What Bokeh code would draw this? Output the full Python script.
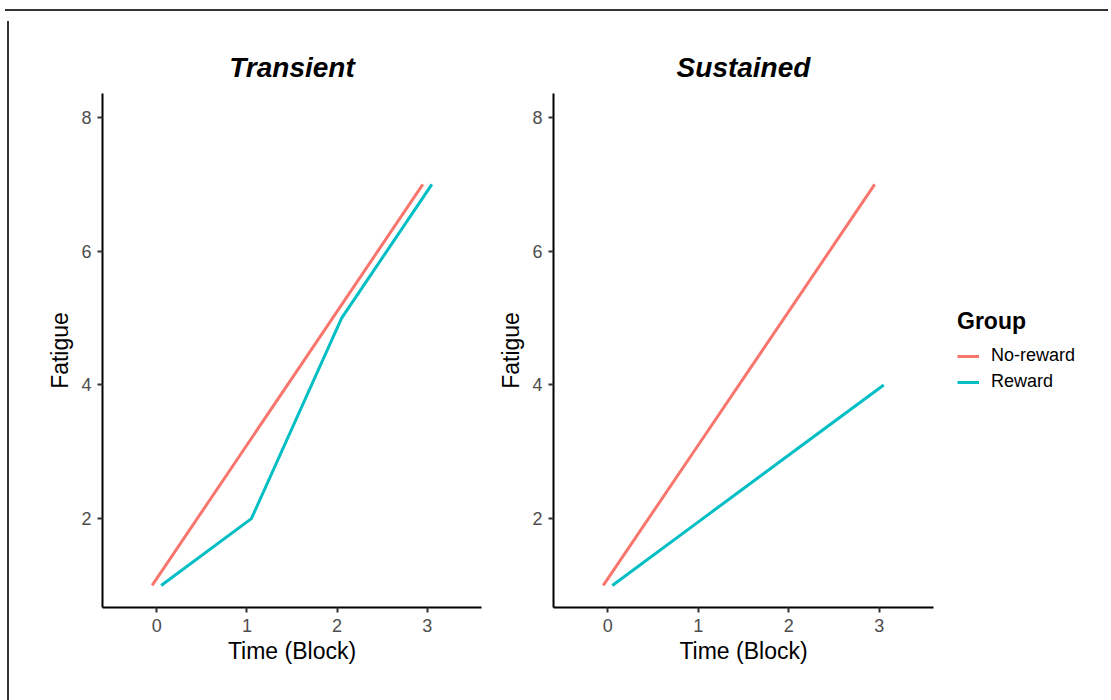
from bokeh.plotting import figure
from bokeh.models import ColumnDataSource, Legend, LegendItem, Range1d, FixedTicker, Title, Div
from bokeh.layouts import row, column
from bokeh.transform import dodge
from bokeh.embed import file_html
from bokeh.resources import INLINE

time = [0, 1, 2, 3]
panels = ["Transient", "Sustained"]
transient_noreward = [1, 3, 5, 7]
transient_reward = [1, 2, 5, 7]
sustained_noreward = [1, 3, 5, 7]
sustained_reward = [1, 2, 3, 4]
groups = ["No-reward", "Reward"]
colors = ["#F8766D", "#00BFC4"]
y_ticks = [2, 4, 6, 8]
x_ticks = [0, 1, 2, 3]

FONT = "Liberation Sans"
H = 682
TOP = 77
FRAME_H = 514


def make_panel(title, nr, rw, left, right, width):
    p = figure(width=width, height=H, output_backend="svg", toolbar_location=None,
               x_range=Range1d(-0.6, 3.6), y_range=Range1d(0.67, 8.36),
               min_border_left=left, min_border_right=right,
               min_border_top=TOP, min_border_bottom=H - TOP - FRAME_H)
    p.title = Title(text=title, align="center", text_font=FONT, text_font_size="28px",
                    text_font_style="bold italic", text_color="black", standoff=21)
    p.grid.visible = False
    p.outline_line_color = None
    p.background_fill_color = "white"
    p.border_fill_color = "white"
    for ax in (p.xaxis, p.yaxis):
        ax.axis_line_color = "black"
        ax.axis_line_width = 2
        ax.major_tick_line_color = "#333333"
        ax.major_tick_line_width = 2
        ax.major_tick_out = 5
        ax.major_tick_in = 0
        ax.minor_tick_line_color = None
        ax.major_label_text_font = FONT
        ax.major_label_text_font_size = "18px"
        ax.major_label_text_color = "#4d4d4d"
        ax.axis_label_text_font = FONT
        ax.axis_label_text_font_size = "23px"
        ax.axis_label_text_font_style = "normal"
        ax.axis_label_text_color = "black"
    p.xaxis.ticker = FixedTicker(ticks=x_ticks)
    p.yaxis.ticker = FixedTicker(ticks=y_ticks)
    p.xaxis.axis_label = "Time (Block)"
    p.yaxis.axis_label = "Fatigue"
    p.xaxis.major_label_standoff = 6
    p.yaxis.major_label_standoff = 6
    p.xaxis.axis_label_standoff = 3
    p.yaxis.axis_label_standoff = 5
    src = ColumnDataSource(dict(t=time, nr=nr, rw=rw))
    r1 = p.line(x=dodge("t", -0.05), y="nr", source=src, line_color=colors[0], line_width=3)
    r2 = p.line(x=dodge("t", 0.05), y="rw", source=src, line_color=colors[1], line_width=3)
    return p, r1, r2


p1, _, _ = make_panel(panels[0], transient_noreward, transient_reward, 88, 10, 477)
p2, _, _ = make_panel(panels[1], sustained_noreward, sustained_reward, 62, 10, 452)

# legend-only figure: its line renderers lie outside the visible range
pl = figure(width=164, height=H, output_backend="svg", toolbar_location=None,
            x_range=Range1d(0, 1), y_range=Range1d(0, 1),
            x_axis_location=None, y_axis_location=None,
            min_border_left=0, min_border_right=0, min_border_top=0, min_border_bottom=0)
pl.grid.visible = False
pl.outline_line_color = None
hidden = ColumnDataSource(dict(x=[-10, -9], y=[-10, -9]))
la = pl.line(x="x", y="y", source=hidden, line_color=colors[0], line_width=3)
lb = pl.line(x="x", y="y", source=hidden, line_color=colors[1], line_width=3)

legend = Legend(items=[LegendItem(label=groups[0], renderers=[la]),
                       LegendItem(label=groups[1], renderers=[lb])],
                title="Group", location="left")
legend.title_text_font = FONT
legend.title_text_font_size = "23px"
legend.title_text_font_style = "bold"
legend.title_text_color = "black"
legend.title_standoff = 10
legend.label_text_font = FONT
legend.label_text_font_size = "18px"
legend.label_text_color = "black"
legend.glyph_width = 22
legend.glyph_height = 20
legend.label_standoff = 12
legend.spacing = 5
legend.padding = 2
legend.margin = 14
legend.border_line_color = None
legend.background_fill_alpha = 0
pl.add_layout(legend, "center")

top_rule = Div(width=1103, height=6, styles={"border-bottom": "2px solid #333333", "box-sizing": "border-box"})
left_rule = Div(width=4, height=H, styles={"border-right": "2px solid #333333", "box-sizing": "border-box"})
layout = column(top_rule, row(left_rule, p1, p2, pl, spacing=0), spacing=0)

open("out.html", "w").write(file_html(layout, INLINE))
